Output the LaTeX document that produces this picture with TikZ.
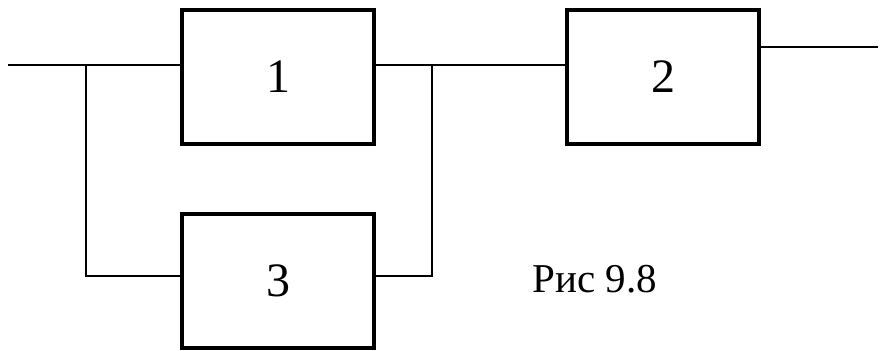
\documentclass[tikz,border=0pt]{standalone}
\usepackage{fontspec}
\setmainfont{Liberation Serif}
\usetikzlibrary{positioning,calc}
\tikzset{
    on grid,
    block/.style = {
        draw,
        shape=rectangle,
        minimum height=67pt,
        minimum width=96pt,
        inner sep=0pt,
        line width=2pt,
        font=\fontsize{24}{28}\selectfont
    },
    wire/.style = {
        line width=1pt
    },
}
\begin{document}
\begin{tikzpicture}[x=0.5pt, y=-0.5pt, node distance=102pt]
        \useasboundingbox (0,0) rectangle (886,351);

        \node[block] (one) at (278,77) {1};
        \node[block, below of=one] (three) {3};
        \node[block, right of=one, node distance=192.5pt] (two) {2};

        \coordinate (in) at (8,65);
        \coordinate (splitl) at (86,65);
        \coordinate (botl) at (86,276);
        \coordinate (splitr) at (432,65);
        \coordinate (botr) at (432,276);
        \coordinate (out) at (878,47);

        \path[draw, wire] (in) -- (in -| one.west);
        \path[draw, wire] (splitl) -- (botl) -- (botl -| three.west);

        \path[draw, wire] (splitr -| one.east) -- (splitr -| two.west);
        \path[draw, wire] (splitr) -- (botr) -- (botr -| three.east);

        \path[draw, wire] (out -| two.east) -- (out);

        \node[anchor=base west, inner sep=0pt, font=\fontsize{20.5}{24}\selectfont] (caption) at (532,293) {Рис 9.8};
    \end{tikzpicture}
\end{document}
